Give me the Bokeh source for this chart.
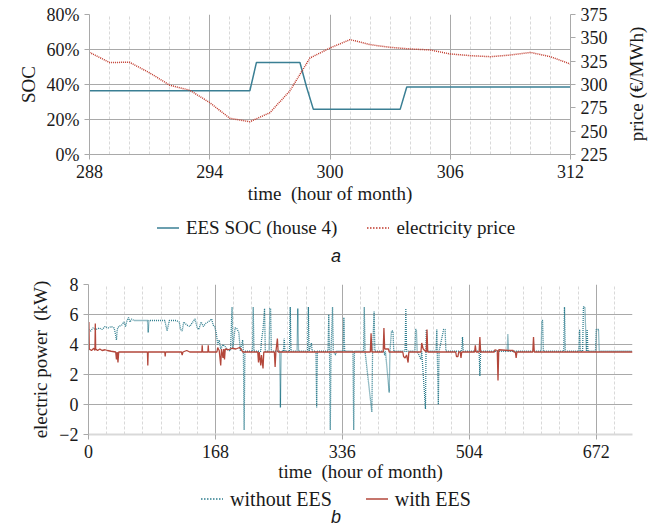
from bokeh.plotting import figure
from bokeh.layouts import column, row
from bokeh.models import (Range1d, LinearAxis, FixedTicker, SingleIntervalTicker,
                          NumeralTickFormatter, Div)
from bokeh.embed import file_html
from bokeh.resources import INLINE

# ---------------- data: panel a ----------------
soc_hours = [288, 296.0, 296.33, 298.5, 298.83, 299.17, 303.5, 303.83, 312]
soc_values = [0.364, 0.364, 0.526, 0.526, 0.386, 0.258, 0.258, 0.386, 0.386]

price_hours = list(range(288, 313))
price_values = [334.4, 323.6, 323.8, 312.5, 299.3, 293.9, 280.6, 263.8, 260.1,
                269.8, 293.2, 328.4, 339.1, 348.1, 342.7, 339.8, 338.1, 337.0,
                332.7, 330.9, 329.8, 331.6, 334.4, 329.8, 321.9]

# ---------------- data: panel b ----------------
no_ees_hours = [0, 3, 6, 10, 14, 18, 22, 26, 30, 34, 36, 37, 38, 40, 44, 47, 49, 51, 53,
                55, 57, 60, 64, 70, 76, 78, 79, 80, 86, 92, 98, 101, 104, 107, 112, 116,
                120, 122, 124, 126, 130, 134, 138, 141, 144, 146, 149, 152, 155, 158, 161,
                163, 165, 167, 169, 171, 173, 175, 178, 182, 185, 188, 190, 191, 194, 196,
                199, 201, 204, 205, 206, 207, 217, 218, 219, 228, 229, 231, 233, 234, 239,
                240, 241, 242, 253, 254, 255, 258, 259, 260, 266, 267, 268, 276, 277, 278,
                290, 291, 292, 295, 296, 301, 302, 303, 317, 318, 319, 320, 321, 323, 324,
                327, 328, 337, 338, 339, 350, 351, 352, 364, 365, 366, 375, 376, 378, 379,
                391, 392, 393, 398, 399, 401, 403, 404, 419, 420, 421, 432, 433, 434, 435,
                440, 441, 446, 447, 448, 460, 461, 463, 464, 470, 472, 473, 494, 495, 496,
                517, 518, 519, 554, 555, 556, 599, 600, 601, 602, 629, 630, 631, 649, 650,
                651, 654, 655, 657, 658, 659, 660, 661, 671, 672, 675, 676, 720]
no_ees_kw = [5.0, 4.9, 5.1, 5.0, 5.1, 5.0, 5.2, 5.1, 5.2, 5.1, 4.6, 4.3, 5.0, 5.2, 5.3, 5.5,
             5.2, 5.6, 5.8, 5.5, 5.7, 5.6, 5.6, 5.6, 5.6, 5.6, 4.8, 5.6, 5.6, 5.6, 5.6, 5.6,
             4.9, 5.6, 5.6, 5.6, 5.5, 5.0, 4.9, 5.5, 5.3, 5.2, 5.5, 5.7, 5.1, 5.0, 5.5, 5.2,
             5.4, 5.5, 5.6, 5.7, 5.3, 5.2, 4.8, 4.0, 4.3, 3.7, 4.0, 3.8, 3.6, 3.6, 6.5, 3.7,
             5.1, 5.1, 4.8, 3.55, 4.3, 3.55, -1.7, 3.55, 3.55, 6.5, 3.55, 3.55, 4.3, 5.0, 6.4,
             3.55, 3.55, 6.4, 6.4, 3.55, 3.55, -0.2, 3.55, 3.55, 4.4, 3.55, 3.55, 6.5, 3.55,
             3.55, 6.4, 3.55, 3.55, 6.5, 3.55, 4.1, 3.55, 3.55, -0.2, 3.55, 3.55, 6.0, 3.55,
             -1.7, 3.55, 6.5, 3.55, 3.3, 3.55, 3.55, 5.8, 3.55, 3.55, -1.7, 3.55, 3.55, 6.5,
             3.55, -0.5, 3.55, 6.2, 3.55, 3.55, 3.3, 3.55, 0.8, 3.55, 4.9, 4.9, 3.55, 3.55,
             6.4, 3.55, 3.55, 5.0, 5.0, 3.55, 3.0, 3.55, -0.3, 5.0, 3.55, 3.55, 5.0, 0.0,
             3.55, 5.0, 5.0, 3.55, 3.55, 4.5, 3.55, 3.55, 1.9, 3.55, 3.55, 4.7, 3.55, 3.55,
             5.6, 5.6, 3.55, 3.55, 6.5, 3.55, 3.55, 5.0, 3.55, 3.55, 6.5, 6.5, 5.0, 3.55,
             5.0, 3.55, 3.55, 5.0, 5.0, 3.55, 3.55]

ees_hours = [0, 0.5, 1, 4, 7, 8.5, 9, 9.5, 12, 15, 18, 22, 25, 30, 36, 37, 38, 39, 40, 78,
             78.5, 79, 101, 101.5, 102, 123, 124, 125, 130, 134, 150, 150.5, 151, 158,
             158.5, 159, 170, 171, 173, 175, 176, 178, 179, 180, 181, 185, 190, 195, 200,
             203, 204, 224, 225, 226, 228, 229, 231, 232, 246, 247, 248, 250, 251, 373,
             374, 375, 390, 391, 392, 397, 398, 416, 417, 419, 421, 423, 424, 440, 441,
             443, 447, 448, 449, 486, 487, 489, 490, 492, 493, 494, 511, 512, 513, 517,
             518, 519, 537, 538, 541, 542, 543, 556, 562, 563, 565, 566, 567, 588, 589,
             590, 720]
ees_kw = [3.6, 5.5, 3.7, 3.6, 3.75, 3.6, 5.4, 3.7, 3.6, 3.7, 3.6, 3.65, 3.6, 3.55, 3.5, 3.0,
          3.5, 2.8, 3.5, 3.5, 2.6, 3.5, 3.5, 3.2, 3.5, 3.5, 3.3, 3.5, 3.6, 3.5, 3.5, 3.95,
          3.5, 3.5, 3.95, 3.5, 3.5, 3.8, 3.6, 2.6, 3.7, 3.1, 3.7, 3.0, 3.7, 3.65, 3.75,
          3.7, 3.8, 3.6, 3.5, 3.5, 2.8, 3.5, 2.6, 3.3, 2.4, 3.5, 3.5, 2.5, 3.5, 4.4, 3.5,
          3.5, 4.75, 3.5, 3.5, 5.1, 3.7, 3.7, 3.5, 3.5, 3.2, 3.1, 3.3, 2.8, 3.5, 3.5, 4.1,
          3.7, 3.5, 5.0, 3.5, 3.5, 3.2, 3.2, 3.5, 3.5, 3.1, 3.5, 3.5, 3.95, 3.5, 3.5, 4.5,
          3.5, 3.5, 3.65, 3.6, 1.6, 3.65, 3.6, 3.6, 3.5, 3.5, 3.1, 3.5, 3.5, 4.5, 3.5, 3.5]

soc_ticks = [0, 0.2, 0.4, 0.6, 0.8]
price_ticks = [225, 250, 275, 300, 325, 350, 375]
power_ticks = [-2, 0, 2, 4, 6, 8]
legend_a = ["EES SOC (house 4)", "electricity price"]
legend_b = ["without EES", "with EES"]
price_label = "price (€/MWh)"

SERIF = "Liberation Serif"
GRID = "#a9a9a9"
LIGHT = "#d9d9d9"
TEXT = "#1a1a1a"
SOC_COL = "#3a7f94"
PRICE_COL = "#c0392b"
BLUE_DOT = "#2e7d8e"
RED_COL = "#b3473b"
W = 660
RW = 40  # width of the strip holding the right-hand axis title


def style_axis(ax):
    ax.major_label_text_font = SERIF
    ax.major_label_text_font_size = "18px"
    ax.major_label_text_color = TEXT
    ax.axis_label_text_font = SERIF
    ax.axis_label_text_font_size = "19px"
    ax.axis_label_text_font_style = "normal"
    ax.axis_label_text_color = TEXT
    ax.axis_line_color = GRID
    ax.major_tick_line_color = GRID
    ax.major_tick_in = 0
    ax.major_tick_out = 5
    ax.minor_tick_line_color = None


def legend_div(entries, legend_top, caption, caption_top, height, fsize, gap):
    parts = []
    for label, col, dash in entries:
        d = ' stroke-dasharray="%s"' % dash if dash else ""
        parts.append(
            '<span style="display:inline-flex;align-items:center;margin:0 %dpx;">'
            '<svg width="22" height="10" style="margin-right:7px">'
            '<line x1="0" y1="5" x2="22" y2="5" stroke="%s" stroke-width="1.5"%s/></svg>'
            '%s</span>' % (gap, col, d, label))
    html = (
        '<div style="position:relative;width:%dpx;height:%dpx;color:%s;">' % (W, height, TEXT)
        + '<div style="position:absolute;left:6px;top:%dpx;width:%dpx;text-align:center;'
          'font-family:\'Liberation Serif\';font-size:%dpx;line-height:22px;'
          'white-space:nowrap;">' % (legend_top, W, fsize)
        + "".join(parts) + "</div>"
        + '<div style="position:absolute;left:6px;top:%dpx;width:%dpx;text-align:center;'
          'font-family:\'Liberation Sans\';font-style:italic;font-size:18px;'
          'line-height:20px;">%s</div>' % (caption_top, W, caption)
        + "</div>")
    return Div(text=html, width=W, height=height, margin=0)


# ---------------- panel a ----------------
p1 = figure(width=W - RW, height=208, output_backend="svg",
            toolbar_location=None, x_range=Range1d(288, 312),
            y_range=Range1d(0, 0.8), min_border_left=89, min_border_right=W - RW - 570,
            min_border_top=14, min_border_bottom=54)
p1.outline_line_color = None
p1.extra_y_ranges = {"price": Range1d(225, 375)}

p1.xaxis.ticker = SingleIntervalTicker(interval=6, num_minor_ticks=6)
p1.yaxis.ticker = FixedTicker(ticks=soc_ticks)
p1.yaxis.formatter = NumeralTickFormatter(format="0%")
p1.xaxis.axis_label = "time \u00a0(hour of month)"
p1.yaxis.axis_label = "SOC"
style_axis(p1.xaxis[0])
style_axis(p1.yaxis[0])
p1.xaxis.axis_label_standoff = 2

rax = LinearAxis(y_range_name="price", ticker=FixedTicker(ticks=price_ticks))
style_axis(rax)
p1.add_layout(rax, "right")

p1.xgrid.grid_line_color = GRID
p1.xgrid.minor_grid_line_color = LIGHT
p1.xgrid.minor_grid_line_dash = "3 2"
p1.ygrid.grid_line_color = GRID
p1.ygrid.grid_line_width = 1.2

p1.line(soc_hours, soc_values, color=SOC_COL, line_width=1.5)
p1.line(price_hours, price_values, y_range_name="price",
        color=PRICE_COL, line_width=1.5, line_dash="1 1")

right_title = Div(
    text=('<div style="position:relative;width:%dpx;height:208px;">'
          '<div style="position:absolute;left:17px;top:84px;'
          'transform:translate(-50%%,-50%%) rotate(-90deg);white-space:nowrap;'
          'font-family:\'Liberation Serif\';font-size:19px;color:%s;">%s</div></div>')
    % (RW, TEXT, price_label),
    width=RW, height=208, margin=0)

div_a = legend_div([(legend_a[0], SOC_COL, None), (legend_a[1], PRICE_COL, "1.5 1.5")],
                   8, "a", 38, 62, 19, 15)

# ---------------- panel b ----------------
p2 = figure(width=W, height=215, output_backend="svg",
            toolbar_location=None, x_range=Range1d(0, 720),
            y_range=Range1d(-2, 8), min_border_left=88, min_border_right=28,
            min_border_top=14, min_border_bottom=51)
p2.outline_line_color = None
p2.xaxis.ticker = SingleIntervalTicker(interval=168, num_minor_ticks=7)
p2.yaxis.ticker = FixedTicker(ticks=power_ticks)
p2.xaxis.axis_label = "time \u00a0(hour of month)"
p2.yaxis.axis_label = "electric power \u00a0(kW)"
style_axis(p2.xaxis[0])
style_axis(p2.yaxis[0])
p2.xaxis.axis_label_standoff = 0
p2.xaxis.axis_line_color = LIGHT
p2.xaxis.axis_line_width = 2

p2.xgrid.grid_line_color = GRID
p2.xgrid.minor_grid_line_color = LIGHT
p2.xgrid.minor_grid_line_dash = "3 2"
p2.ygrid.grid_line_color = GRID

p2.line(no_ees_hours, no_ees_kw, color=BLUE_DOT, line_width=1.3, line_dash="1 1")
p2.line(ees_hours, ees_kw, color=RED_COL, line_width=1.3)

div_b = legend_div([(legend_b[0], BLUE_DOT, "1.5 1.5"), (legend_b[1], RED_COL, None)],
                   1, "b", 22, 44, 20, 17)

layout = column(row(p1, right_title, spacing=0), div_a, p2, div_b, spacing=0)
open("out.html", "w").write(file_html(layout, INLINE))
